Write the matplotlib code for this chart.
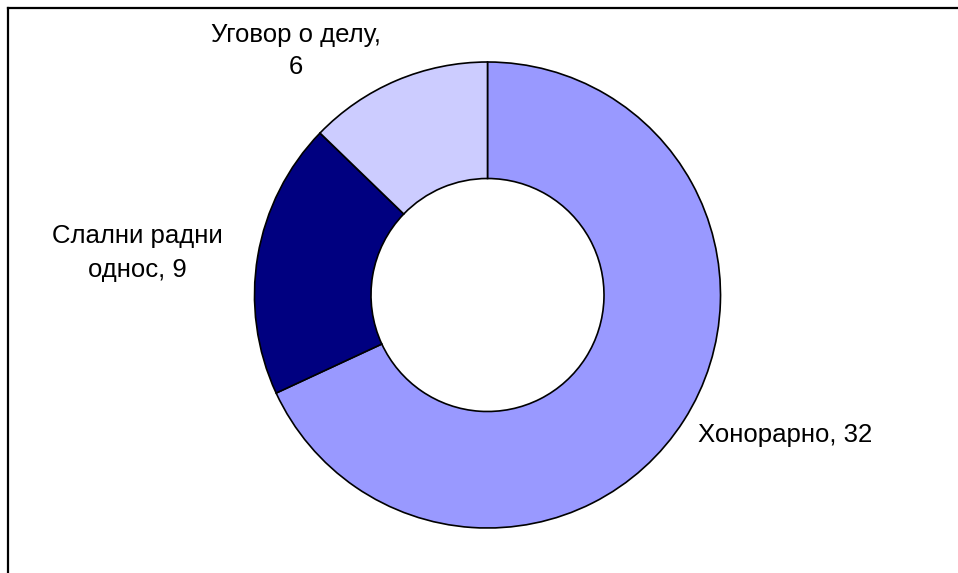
import matplotlib
matplotlib.use('Agg')
import matplotlib.pyplot as plt
from matplotlib.lines import Line2D

plt.rcParams['font.family'] = ['Liberation Sans', 'DejaVu Sans']

# data
categories = ['Хонорарно', 'Слални радни\nоднос', 'Уговор о делу,\n']
values = [32, 9, 6]
colors = ['#9999FF', '#000080', '#CCCCFF']

# figure in pixel units
W, H = 958, 573
fig = plt.figure(figsize=(W / 100, H / 100), dpi=100)
ax = fig.add_axes([0, 0, 1, 1])

cx, cy, r = 487.5, H - 295, 233
ax.pie(values, colors=colors, startangle=90, counterclock=False,
       center=(cx, cy), radius=r, frame=True,
       wedgeprops=dict(width=r * 0.5, edgecolor='black', linewidth=1.2))
ax.set_xlim(0, W)
ax.set_ylim(0, H)
ax.set_aspect('equal')
ax.axis('off')

# labels
fs = 18.5
ax.text(698, H - 435, categories[0] + ', ' + str(values[0]), fontsize=fs,
        ha='left', va='center')
ax.text(137, H - 253, categories[1] + ', ' + str(values[1]), fontsize=fs,
        ha='center', va='center', linespacing=1.5)
ax.text(296, H - 51, categories[2] + str(values[2]), fontsize=fs,
        ha='center', va='center', linespacing=1.45)

# chart border (only top and left visible in the crop)
fig.add_artist(Line2D([8 / W, 1], [1 - 8 / H, 1 - 8 / H], color='black',
                      linewidth=1.6, transform=fig.transFigure))
fig.add_artist(Line2D([8 / W, 8 / W], [0, 1 - 8 / H], color='black',
                      linewidth=1.6, transform=fig.transFigure))

fig.savefig('out.png', dpi=100)
